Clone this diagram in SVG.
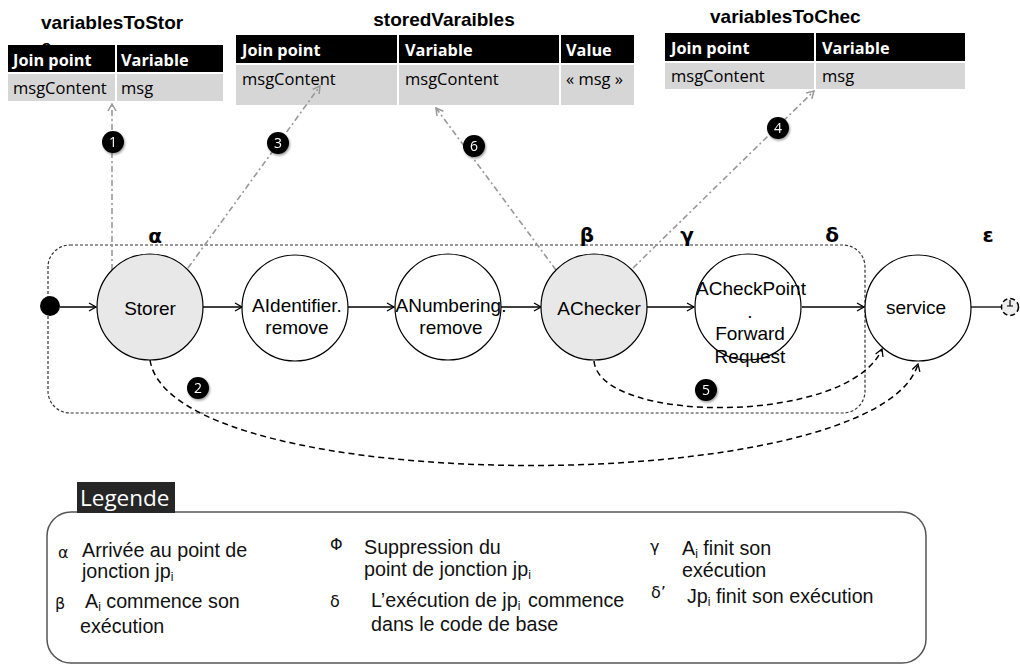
<svg xmlns="http://www.w3.org/2000/svg" width="1020" height="667" viewBox="0 0 1020 667">
<defs>
<style>
.ttl{font-family:"Liberation Sans",Arial,sans-serif;font-weight:bold;font-size:19px;fill:#000}
.th{font-family:"Open Sans",sans-serif;font-weight:bold;font-size:16.3px;fill:#fff}
.td{font-family:"Open Sans",sans-serif;font-size:16.5px;fill:#000}
.hd{fill:#000}
.dc{fill:#d6d6d6}
.sep{stroke:#fff;stroke-width:2}
.node{stroke:#000;stroke-width:1.2}
.lbl{font-family:"Liberation Sans",Arial,sans-serif;font-size:19px;fill:#000;text-anchor:middle}
.greek{font-family:"DejaVu Sans",sans-serif;font-weight:bold;font-size:20px;fill:#000;text-anchor:middle}
.flow{stroke:#000;stroke-width:1.3;fill:none}
.dd{stroke:#999;stroke-width:1.6;fill:none;stroke-dasharray:6 3 2 3}
.dash{stroke:#000;stroke-width:1.5;fill:none;stroke-dasharray:6 4}
.badge circle{fill:#000}
.badge text{font-family:"Open Sans",sans-serif;font-size:14px;fill:#fff;text-anchor:middle}
.lg{font-family:"Liberation Sans",Arial,sans-serif;font-size:19.7px;fill:#111}
.sym{font-family:"DejaVu Sans",sans-serif;font-size:16px;fill:#111}
</style>
<marker id="ah" markerWidth="10" markerHeight="10" refX="8" refY="5" orient="auto" markerUnits="userSpaceOnUse">
<path d="M1,1 L8,5 L1,9" fill="none" stroke="#000" stroke-width="1.3"/>
</marker>
<marker id="ahg" markerWidth="10" markerHeight="10" refX="8" refY="5" orient="auto" markerUnits="userSpaceOnUse">
<path d="M1,1 L8,5 L1,9" fill="none" stroke="#999" stroke-width="1.5"/>
</marker>
<filter id="sh" x="-50%" y="-50%" width="200%" height="200%">
<feDropShadow dx="1" dy="1.5" stdDeviation="1.2" flood-color="#000" flood-opacity="0.4"/>
</filter>
</defs>
<rect width="1020" height="667" fill="#fff"/>

<!-- boundary -->
<rect id="boundary" x="48" y="245" width="817" height="168" rx="22" fill="none" stroke="#333" stroke-width="1.2" stroke-dasharray="3 2"/>

<!-- tables -->
<g id="table-variablesToStore">
<text class="ttl" x="41" y="29">variablesToStor</text>
<text class="ttl" x="41" y="53">e</text>
<rect class="hd" x="8" y="45" width="215" height="27"/>
<rect class="dc" x="8" y="74" width="215" height="27"/>
<line class="sep" x1="116" y1="45" x2="116" y2="101"/>
<text class="th" x="13" y="66">Join point</text>
<text class="th" x="121" y="66">Variable</text>
<text class="td" x="13" y="94">msgContent</text>
<text class="td" x="121" y="94">msg</text>
</g>
<g id="table-storedVaraibles">
<text class="ttl" x="444" y="26" text-anchor="middle">storedVaraibles</text>
<rect class="hd" x="236" y="35" width="398" height="28"/>
<rect class="dc" x="236" y="65" width="398" height="40"/>
<line class="sep" x1="398" y1="35" x2="398" y2="105"/>
<line class="sep" x1="560" y1="35" x2="560" y2="105"/>
<text class="th" x="242" y="56">Join point</text>
<text class="th" x="405" y="56">Variable</text>
<text class="th" x="566" y="56">Value</text>
<text class="td" x="242" y="85">msgContent</text>
<text class="td" x="405" y="85">msgContent</text>
<text class="td" x="566" y="85">« msg »</text>
</g>
<g id="table-variablesToCheck">
<text class="ttl" x="710" y="23">variablesToChec</text>
<text class="ttl" x="710" y="47">k</text>
<rect class="hd" x="665" y="33" width="300" height="28"/>
<rect class="dc" x="665" y="63" width="300" height="26"/>
<line class="sep" x1="815" y1="33" x2="815" y2="89"/>
<text class="th" x="671" y="54">Join point</text>
<text class="th" x="822" y="54">Variable</text>
<text class="td" x="671" y="82">msgContent</text>
<text class="td" x="822" y="82">msg</text>
</g>

<!-- connectors -->
<g id="connectors">
<line class="flow" x1="60" y1="307" x2="96" y2="307" marker-end="url(#ah)"/>
<line class="flow" x1="203" y1="307" x2="242" y2="307" marker-end="url(#ah)"/>
<line class="flow" x1="348" y1="307" x2="394" y2="307" marker-end="url(#ah)"/>
<line class="flow" x1="501" y1="307" x2="541" y2="307" marker-end="url(#ah)"/>
<line class="flow" x1="647" y1="307" x2="694" y2="307" marker-end="url(#ah)"/>
<line class="flow" x1="802" y1="307" x2="864" y2="307" marker-end="url(#ah)"/>
<line class="flow" x1="971" y1="307" x2="1001" y2="307"/>
<line class="dd" x1="112" y1="270" x2="112" y2="104" marker-end="url(#ahg)"/>
<line class="dd" x1="188" y1="268" x2="320" y2="86" marker-end="url(#ahg)"/>
<line class="dd" x1="556" y1="270" x2="436" y2="108" marker-end="url(#ahg)"/>
<line class="dd" x1="633" y1="268" x2="814" y2="91" marker-end="url(#ahg)"/>
<path class="dash" d="M150,360 C172,500 878,500 918,364" marker-end="url(#ah)"/>
<path class="dash" d="M594,361 C600,425 850,425 882,349" marker-end="url(#ah)"/>
</g>

<!-- nodes -->
<g id="start"><circle cx="50" cy="306" r="10" fill="#000"/></g>
<g id="n-storer"><circle class="node" cx="150" cy="307" r="53" fill="#e8e8e8"/><text class="lbl" x="150" y="315">Storer</text></g>
<g id="n-aidentifier"><circle class="node" cx="295" cy="308" r="53" fill="#fff"/><text class="lbl" x="297" y="312">AIdentifier.</text><text class="lbl" x="297" y="334">remove</text></g>
<g id="n-anumbering"><circle class="node" cx="448" cy="307" r="53" fill="#fff"/><text class="lbl" x="451" y="312">ANumbering.</text><text class="lbl" x="451" y="334">remove</text></g>
<g id="n-achecker"><circle class="node" cx="594" cy="307" r="53" fill="#e8e8e8"/><text class="lbl" x="599" y="315">AChecker</text></g>
<g id="n-acheckpoint"><circle class="node" cx="748" cy="307" r="53" fill="#fff"/><text class="lbl" x="751" y="295">ACheckPoint</text><text class="lbl" x="750" y="318">.</text><text class="lbl" x="750" y="340">Forward</text><text class="lbl" x="750" y="363">Request</text></g>
<g id="n-service"><circle class="node" cx="918" cy="308" r="53" fill="#fff"/><text class="lbl" x="916" y="314">service</text></g>
<g id="end"><circle cx="1010" cy="307" r="8.5" fill="#eee" stroke="#000" stroke-width="1.5" stroke-dasharray="5 3"/><line x1="1010" y1="300" x2="1010" y2="306" stroke="#000" stroke-width="1.2"/><line x1="1007" y1="306" x2="1013" y2="306" stroke="#000" stroke-width="1"/></g>

<!-- greek markers -->
<g id="greek">
<text class="greek" x="155" y="243">α</text>
<text class="greek" x="587" y="242">β</text>
<text class="greek" x="687" y="242">γ</text>
<text class="greek" x="832" y="242">δ</text>
<text class="greek" x="988" y="242">ε</text>
</g>

<!-- badges -->
<g class="badge" filter="url(#sh)">
<g id="b1"><circle cx="113" cy="142" r="11"/><text x="113" y="147">1</text></g>
<g id="b2"><circle cx="198" cy="388" r="11"/><text x="198" y="393">2</text></g>
<g id="b3"><circle cx="278" cy="143" r="11"/><text x="278" y="148">3</text></g>
<g id="b4"><circle cx="778" cy="128" r="11"/><text x="778" y="133">4</text></g>
<g id="b5"><circle cx="706" cy="390" r="11"/><text x="706" y="395">5</text></g>
<g id="b6"><circle cx="474" cy="146" r="11"/><text x="474" y="151">6</text></g>
</g>

<!-- legend -->
<g id="legend">
<rect x="47" y="512" width="879" height="151" rx="24" fill="none" stroke="#555" stroke-width="1.5"/>
<rect x="77" y="482" width="98" height="31" fill="#262626"/>
<text x="80" y="506" font-family="'Open Sans',sans-serif" font-size="22.5" fill="#fff">Legende</text>
<text class="sym" x="58" y="558">α</text>
<text class="lg" x="82" y="557">Arrivée au point de</text>
<text class="lg" x="82" y="578">jonction jp<tspan font-size="12" dy="3">i</tspan></text>
<text class="sym" x="55" y="609">β</text>
<text class="lg" x="85" y="608">A<tspan font-size="12" dy="3">i</tspan><tspan dy="-3"> commence son</tspan></text>
<text class="lg" x="80" y="633">exécution</text>
<text class="sym" x="330" y="550">Φ</text>
<text class="lg" x="364" y="554">Suppression du</text>
<text class="lg" x="364" y="576">point de jonction  jp<tspan font-size="12" dy="3">i</tspan></text>
<text class="sym" x="330" y="607">δ</text>
<text class="lg" x="371" y="607">L’exécution de jp<tspan font-size="12" dy="3">i</tspan></text>
<text class="lg" x="528" y="607">commence</text>
<text class="lg" x="371" y="631">dans le code de base</text>
<text class="sym" x="650" y="552">γ</text>
<text class="lg" x="682" y="555">A<tspan font-size="12" dy="3">i</tspan><tspan dy="-3"> finit son</tspan></text>
<text class="lg" x="682" y="577">exécution</text>
<text class="sym" x="651" y="598">δ’</text>
<text class="lg" x="687" y="603">Jp<tspan font-size="12" dy="3">i</tspan><tspan dy="-3"> finit son exécution</tspan></text>
</g>
</svg>
